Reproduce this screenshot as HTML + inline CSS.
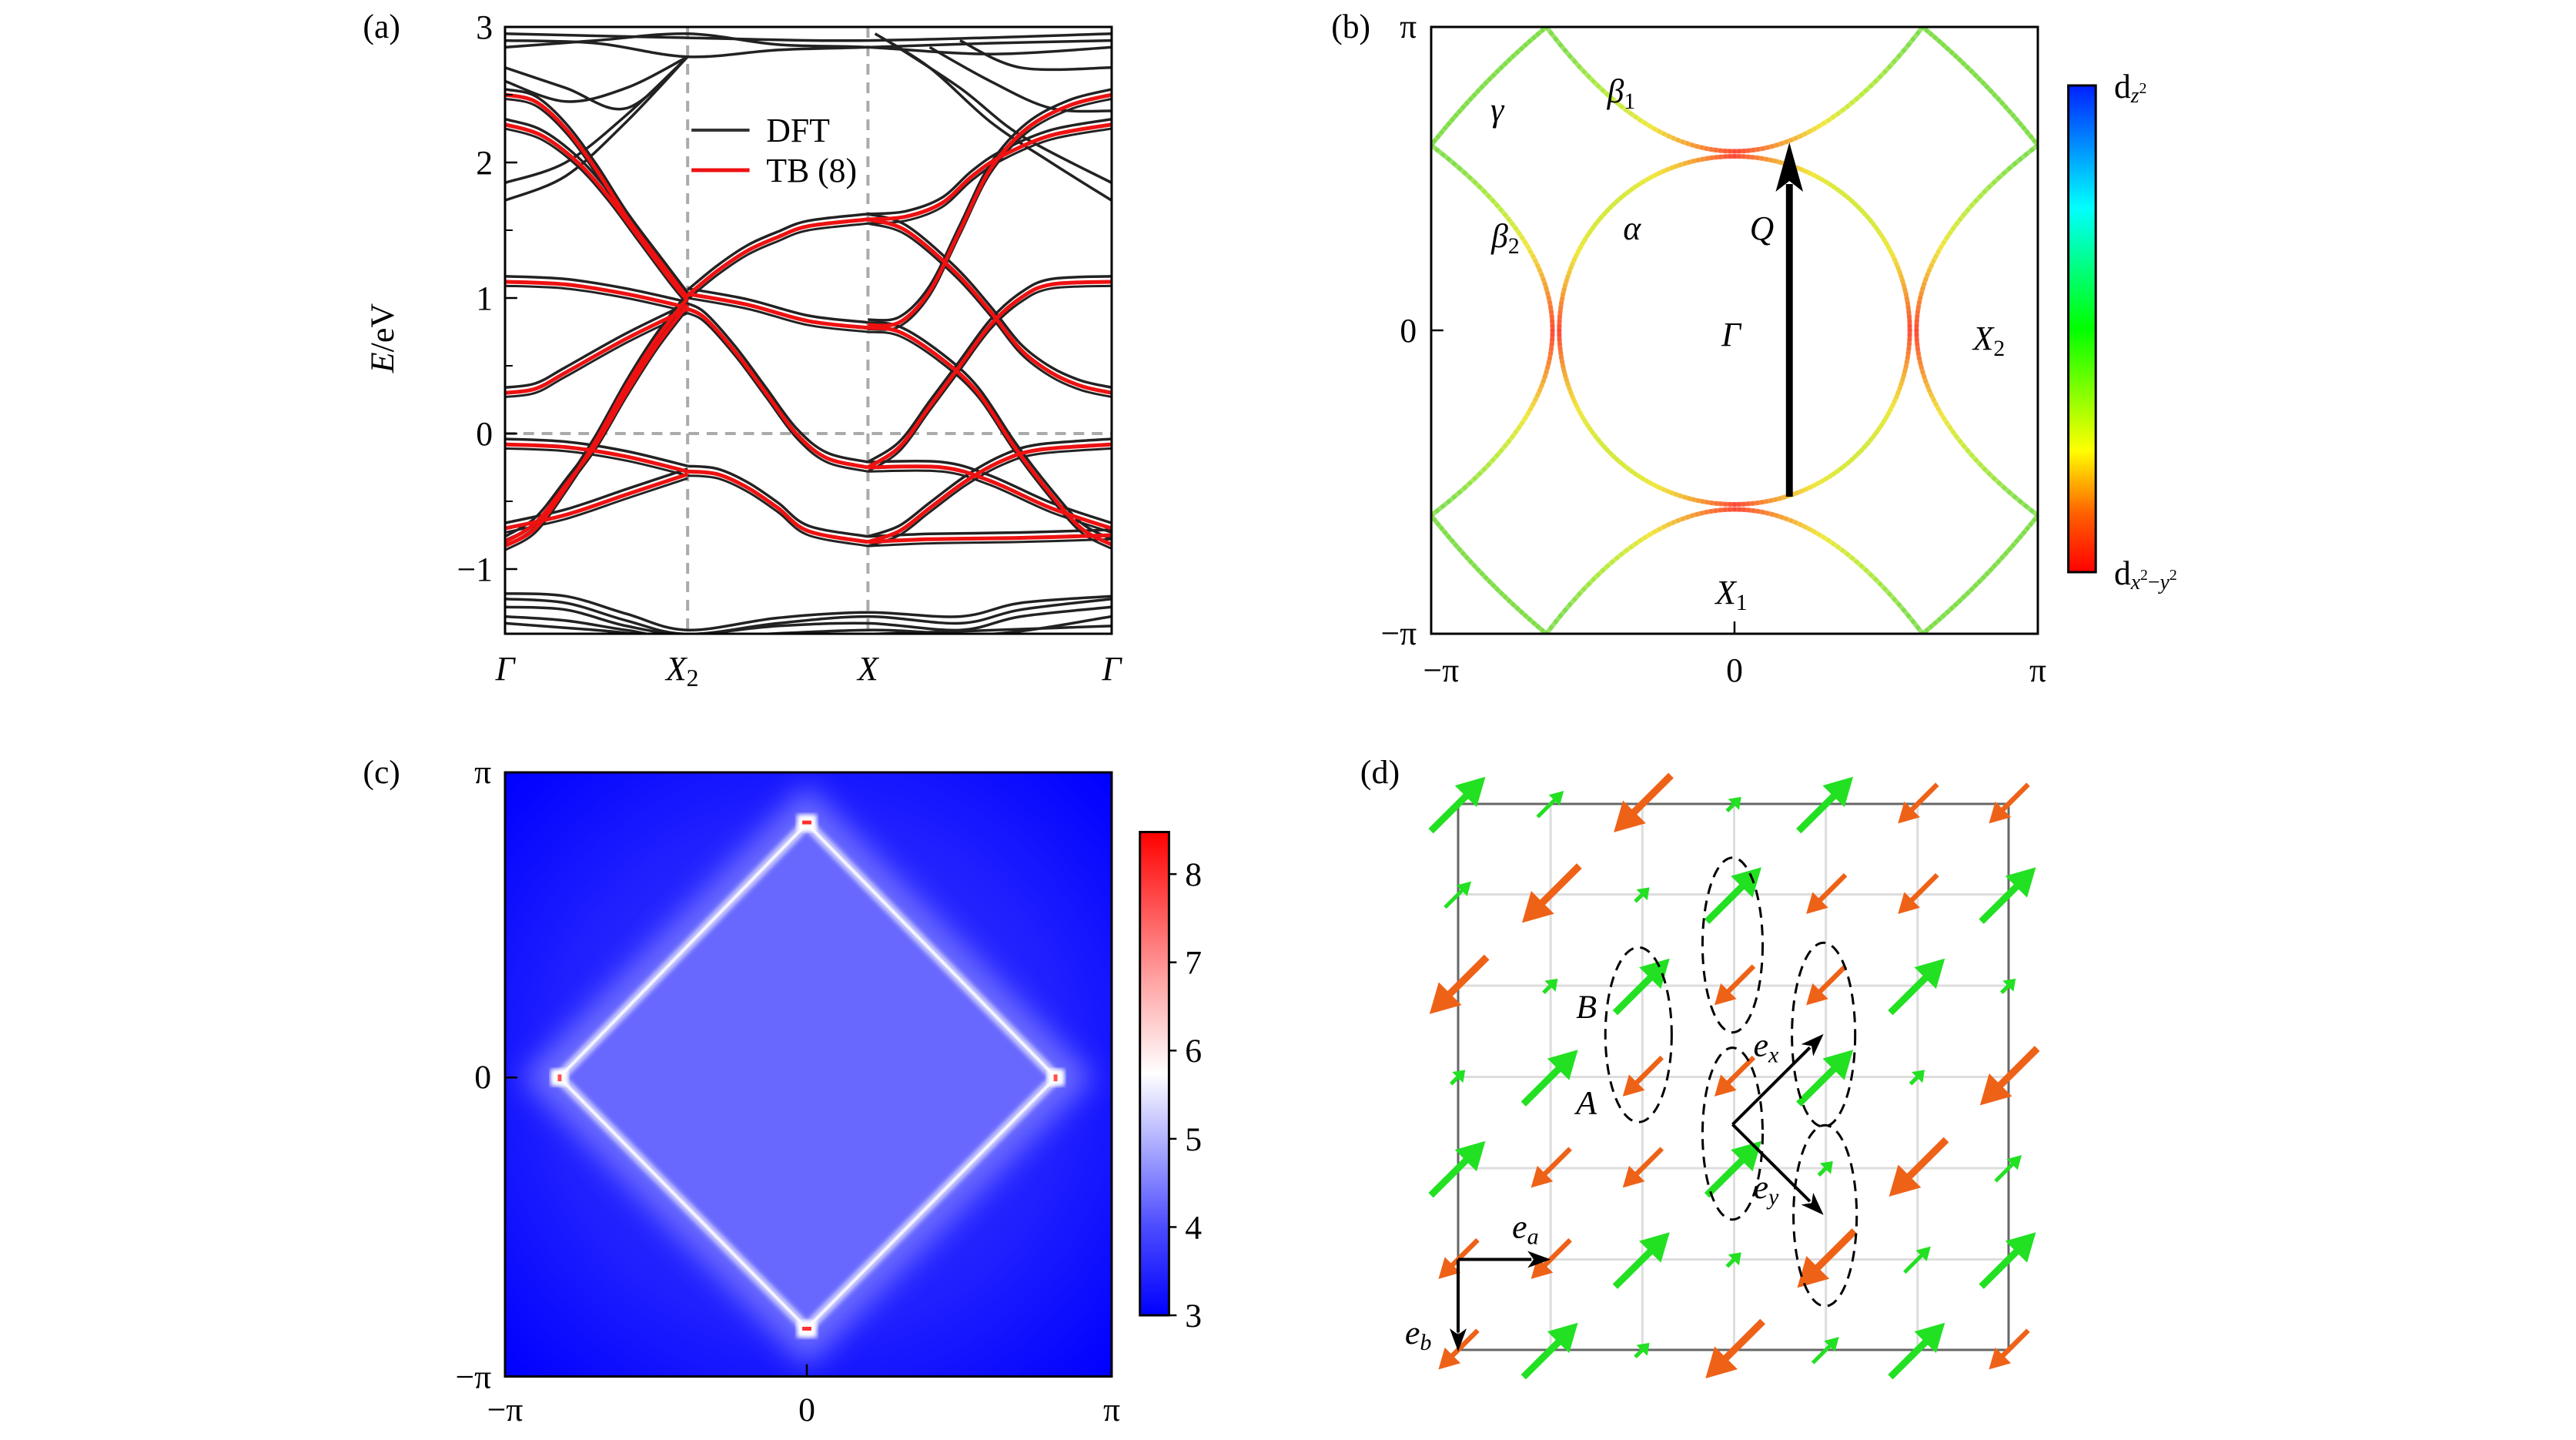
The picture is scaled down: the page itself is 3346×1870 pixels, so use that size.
<!DOCTYPE html>
<html><head><meta charset="utf-8"><style>
html,body{margin:0;padding:0;background:#fff;}
svg{display:block;}
text{font-family:"Liberation Serif",serif;fill:#000;}
.t{font-size:44px;}
.i{font-style:italic;}
</style></head><body>
<svg id="s" width="3346" height="1870" viewBox="0 0 3346 1870" xmlns="http://www.w3.org/2000/svg">
<defs>
<linearGradient id="jet" x1="0" y1="1" x2="0" y2="0">
<stop offset="0" stop-color="#ff0000"/><stop offset="0.12" stop-color="#ff6000"/><stop offset="0.25" stop-color="#ffff00"/><stop offset="0.5" stop-color="#00ff00"/><stop offset="0.75" stop-color="#00ffff"/><stop offset="1" stop-color="#0020ff"/>
</linearGradient>
<linearGradient id="bwr" x1="0" y1="1" x2="0" y2="0">
<stop offset="0" stop-color="#0000ff"/><stop offset="0.18" stop-color="#4a4aff"/><stop offset="0.36" stop-color="#b0b0ff"/><stop offset="0.5" stop-color="#ffffff"/><stop offset="0.7" stop-color="#ffa0a0"/><stop offset="1" stop-color="#ff0000"/>
</linearGradient>
<radialGradient id="bg" cx="0.5" cy="0.5" r="0.7">
<stop offset="0" stop-color="#3c3cff"/><stop offset="0.6" stop-color="#2020ff"/><stop offset="1" stop-color="#0000ff"/>
</radialGradient>
<filter id="blur1" x="-20%" y="-20%" width="140%" height="140%"><feGaussianBlur stdDeviation="18"/></filter>
<filter id="blur2"><feGaussianBlur stdDeviation="3"/></filter>
<clipPath id="ca"><rect x="658" y="36" width="794" height="788"/></clipPath>
<clipPath id="cb"><rect x="1864" y="36" width="796" height="788"/></clipPath>
<clipPath id="cc"><rect x="658" y="1010" width="794" height="790"/></clipPath>
</defs>
<g id="ga" transform="matrix(0.9924,0,0,1,3.0,-1)"><g id="pa" clip-path="url(#ca)"></g></g>
<g id="gb" transform="matrix(0.98995,0,0,1,13.7,-1)"><g id="pb" clip-path="url(#cb)"></g></g>
<g id="gc" transform="matrix(0.9924,0,0,0.993,3,0.1)">
<g id="pc" clip-path="url(#cc)">
<rect x="658" y="1010" width="794" height="790" fill="url(#bg)"/>
<polygon points="1053,1077 1379,1409 1053,1737 729,1409" fill="none" stroke="#6a6aff" stroke-width="70" filter="url(#blur1)"/>
<polygon points="1053,1077 1379,1409 1053,1737 729,1409" fill="#6868ff"/>
<polygon points="1053,1077 1379,1409 1053,1737 729,1409" fill="none" stroke="#c8c8ff" stroke-width="14" filter="url(#blur2)"/>
<polygon points="1053,1077 1379,1409 1053,1737 729,1409" fill="none" stroke="#f4f4ff" stroke-width="4"/>
<rect x="1040" y="1065" width="26" height="22" fill="#fff" filter="url(#blur2)"/>
<rect x="1040" y="1727" width="26" height="22" fill="#fff" filter="url(#blur2)"/>
<rect x="718" y="1398" width="22" height="22" fill="#fff" filter="url(#blur2)"/>
<rect x="1368" y="1398" width="22" height="22" fill="#fff" filter="url(#blur2)"/>
<rect x="1047" y="1073" width="12" height="5" fill="#ff3030"/>
<rect x="1047" y="1735" width="12" height="5" fill="#ff3030"/>
<rect x="727" y="1405" width="5" height="9" fill="#ff5050"/>
<rect x="1376" y="1405" width="5" height="9" fill="#ff5050"/>
</g>
</g>
<g id="gd" transform="matrix(1.0014,0,0,0.9958,-15.7,-2.6)"><g id="pd"></g></g>
</svg>
<script>
var NS="http://www.w3.org/2000/svg";
function el(p,tag,attrs,txt){var e=document.createElementNS(NS,tag);for(var k in attrs)e.setAttribute(k,attrs[k]);if(txt!==undefined)e.textContent=txt;p.appendChild(e);return e;}
function G(id){return document.getElementById(id);}
function cr(pts){
 var d="M"+pts[0][0].toFixed(1)+","+pts[0][1].toFixed(1);
 for(var i=0;i<pts.length-1;i++){var p0=pts[i-1]||pts[i],p1=pts[i],p2=pts[i+1],p3=pts[i+2]||pts[i+1];
  var c1=[p1[0]+(p2[0]-p0[0])/6,p1[1]+(p2[1]-p0[1])/6],c2=[p2[0]-(p3[0]-p1[0])/6,p2[1]-(p3[1]-p1[1])/6];
  d+="C"+c1[0].toFixed(1)+","+c1[1].toFixed(1)+" "+c2[0].toFixed(1)+","+c2[1].toFixed(1)+" "+p2[0].toFixed(1)+","+p2[1].toFixed(1);}
 return d;}
var axA=G("ga"),axB=G("gb"),axC=G("gc"),axD=G("gd");
// ---------- panel a
var pa=G("pa");
function kx(k){return 658+794*k;} function ey(E){return 564-176*E;}
function band(pts,col,w,dE){var q=pts.map(function(p){return [kx(p[0]),ey(p[1]+(dE||0))];});el(pa,"path",{d:cr(q),fill:"none",stroke:col,"stroke-width":w});}
el(pa,"line",{x1:897,y1:36,x2:897,y2:824,stroke:"#aaa","stroke-width":4,"stroke-dasharray":"14,10"});
el(pa,"line",{x1:1133,y1:36,x2:1133,y2:824,stroke:"#aaa","stroke-width":4,"stroke-dasharray":"14,10"});
el(pa,"line",{x1:658,y1:564,x2:1452,y2:564,stroke:"#aaa","stroke-width":4,"stroke-dasharray":"14,10"});
var B=[
[[0,2.5],[0.05,2.45],[0.1,2.25],[0.15,1.95],[0.2,1.6],[0.25,1.3],[0.301,1.0]],
[[0,2.28],[0.06,2.2],[0.12,2.0],[0.17,1.75],[0.22,1.45],[0.27,1.15],[0.301,0.98]],
[[0,1.12],[0.1,1.1],[0.2,1.03],[0.301,0.93]],
[[0,0.3],[0.05,0.33],[0.1,0.45],[0.2,0.7],[0.301,0.92]],
[[0,-0.83],[0.05,-0.7],[0.1,-0.4],[0.15,-0.05],[0.2,0.35],[0.25,0.7],[0.301,1.0]],
[[0,-0.8],[0.05,-0.66],[0.1,-0.38],[0.15,-0.08],[0.2,0.3],[0.25,0.65],[0.301,0.95]],
[[0,-0.08],[0.1,-0.1],[0.2,-0.17],[0.301,-0.28]],
[[0,-0.7],[0.1,-0.6],[0.2,-0.45],[0.301,-0.3]],
[[0.301,1.02],[0.35,1.2],[0.4,1.35],[0.45,1.45],[0.5,1.53],[0.598,1.58]],
[[0.301,1.03],[0.4,0.95],[0.5,0.83],[0.598,0.78]],
[[0.301,0.92],[0.33,0.85],[0.38,0.6],[0.43,0.3],[0.48,0.0],[0.53,-0.18],[0.598,-0.25]],
[[0.301,-0.28],[0.35,-0.3],[0.4,-0.4],[0.45,-0.55],[0.5,-0.72],[0.598,-0.8]],
[[0.598,1.58],[0.66,1.6],[0.72,1.7],[0.77,1.9],[0.82,2.05],[0.9,2.2],[1,2.28]],
[[0.598,0.8],[0.65,0.82],[0.7,1.05],[0.75,1.5],[0.8,1.95],[0.86,2.25],[0.93,2.42],[1,2.5]],
[[0.598,1.58],[0.66,1.5],[0.74,1.2],[0.8,0.9],[0.85,0.62],[0.9,0.45],[0.95,0.35],[1,0.3]],
[[0.598,0.78],[0.65,0.75],[0.72,0.55],[0.78,0.3],[0.84,-0.1],[0.9,-0.45],[0.95,-0.7],[1,-0.82]],
[[0.598,-0.25],[0.65,-0.1],[0.7,0.2],[0.75,0.5],[0.8,0.8],[0.85,1.0],[0.9,1.1],[1,1.12]],
[[0.598,-0.25],[0.72,-0.25],[0.8,-0.35],[0.9,-0.55],[1,-0.7]],
[[0.598,-0.8],[0.65,-0.72],[0.7,-0.55],[0.76,-0.35],[0.82,-0.2],[0.88,-0.12],[1,-0.08]],
[[0.598,-0.8],[0.7,-0.78],[0.85,-0.77],[1,-0.75]]
];
var X=[
[[0,2.7],[0.1,2.55],[0.2,2.4],[0.301,2.78]],[[0,2.6],[0.1,2.45],[0.2,2.55],[0.301,2.78]],
[[0,1.85],[0.1,2.0],[0.2,2.35],[0.301,2.78]],[[0,1.72],[0.1,1.9],[0.2,2.3],[0.301,2.78]],
[[0,2.95],[0.3,2.92],[0.6,2.9],[1,2.95]],[[0,2.9],[0.15,2.88],[0.301,2.78],[0.45,2.83],[0.598,2.85],[0.8,2.88],[1,2.9]],
[[0,2.85],[0.15,2.9],[0.301,2.95],[0.45,2.87],[0.598,2.85],[0.8,2.8],[1,2.85]],
[[0.61,2.95],[0.7,2.7],[0.8,2.3],[0.9,2.0],[1,1.72]],[[0.63,2.9],[0.75,2.55],[0.85,2.2],[1,1.85]],
[[0.7,2.85],[0.8,2.6],[0.9,2.4],[1,2.38]],[[0.75,2.9],[0.85,2.7],[1,2.7]],
[[0,-1.22],[0.1,-1.25],[0.2,-1.38],[0.301,-1.48],[0.45,-1.4],[0.598,-1.35],[0.75,-1.4],[0.85,-1.3],[1,-1.22]],
[[0,-1.28],[0.1,-1.3],[0.2,-1.42],[0.301,-1.48],[0.45,-1.42],[0.598,-1.4],[0.75,-1.45],[0.85,-1.35],[1,-1.28]],
[[0,-1.35],[0.1,-1.38],[0.2,-1.45],[0.301,-1.5],[0.598,-1.45],[0.8,-1.48],[1,-1.35]],
[[0,-1.4],[0.15,-1.45],[0.301,-1.5],[0.598,-1.48],[1,-1.42]],
[[0,-1.18],[0.1,-1.2],[0.2,-1.33],[0.301,-1.45],[0.45,-1.36],[0.598,-1.32],[0.75,-1.35],[0.85,-1.25],[1,-1.2]]
];
X.forEach(function(b){band(b,"#222",3.5,0);});
B.forEach(function(b){band(b,"#222",3.5,0.04);band(b,"#222",3,-0.03);});
B.forEach(function(b){band(b,"#ee1111",5,0);});
var ax=axA;
el(ax,"rect",{x:658,y:36,width:794,height:788,fill:"none",stroke:"#000","stroke-width":3});
[3,2,1,0,-1].forEach(function(v){var y=ey(v);el(ax,"line",{x1:658,y1:y,x2:674,y2:y,stroke:"#000","stroke-width":2.5});
 el(ax,"text",{x:642,y:y+15,"text-anchor":"end","class":"t"},v<0?"\u2212"+(-v):""+v);});
[2.5,1.5,0.5,-0.5].forEach(function(v){var y=ey(v);el(ax,"line",{x1:658,y1:y,x2:668,y2:y,stroke:"#000","stroke-width":2});});
el(ax,"text",{x:472,y:50,"class":"t"},"(a)");
var tE=el(ax,"text",{x:0,y:0,"class":"t",transform:"translate(512,440) rotate(-90)","text-anchor":"middle"});
el(tE,"tspan",{"font-style":"italic"},"E");el(tE,"tspan",{},"/eV");
el(ax,"text",{x:658,y:884,"class":"t i","text-anchor":"middle"},"\u0393");
var tx2=el(ax,"text",{x:890,y:884,"class":"t i","text-anchor":"middle"},"X");el(tx2,"tspan",{"font-style":"normal","font-size":"32",dy:8},"2");
el(ax,"text",{x:1133,y:884,"class":"t i","text-anchor":"middle"},"X");
el(ax,"text",{x:1452,y:884,"class":"t i","text-anchor":"middle"},"\u0393");
el(ax,"line",{x1:902,y1:170,x2:978,y2:170,stroke:"#333","stroke-width":4});
el(ax,"line",{x1:902,y1:222,x2:978,y2:222,stroke:"#ee1111","stroke-width":5});
el(ax,"text",{x:1000,y:185,"class":"t"},"DFT");
el(ax,"text",{x:1000,y:237,"class":"t"},"TB (8)");
// ---------- panel b
var pb=G("pb");var cx=2262,cy=430,hx=398,hy=394;
function P(u,v){return [cx+u*hx,cy-v*hy];}
function col(t){
 var stops=[[0,[255,60,40]],[0.25,[245,150,40]],[0.5,[240,230,50]],[0.75,[180,235,50]],[1,[120,220,60]]];
 for(var i=0;i<stops.length-1;i++){if(t<=stops[i+1][0]){var a=stops[i],b=stops[i+1],f=(t-a[0])/(b[0]-a[0]);
  return "rgb("+[0,1,2].map(function(j){return Math.round(a[1][j]+(b[1][j]-a[1][j])*f);}).join(",")+")";}}
 return "rgb(120,220,60)";}
function seg(pts,tf){for(var i=0;i<pts.length-1;i++){var t=tf(i/(pts.length-1));
 el(pb,"line",{x1:pts[i][0].toFixed(1),y1:pts[i][1].toFixed(1),x2:pts[i+1][0].toFixed(1),y2:pts[i+1][1].toFixed(1),stroke:col(t),"stroke-width":6,"stroke-linecap":"round","opacity":0.75});}}
var ap=[];for(var i=0;i<=240;i++){var a=i/240*2*Math.PI;ap.push([cx+230*Math.cos(a),cy-226*Math.sin(a)]);}
seg(ap,function(s){var a=s*2*Math.PI;return 0.62*Math.abs(Math.sin(2*a));});
function qb(p0,c,p2,n){var r=[];for(var i=0;i<=n;i++){var t=i/n;r.push([(1-t)*(1-t)*p0[0]+2*t*(1-t)*c[0]+t*t*p2[0],(1-t)*(1-t)*p0[1]+2*t*(1-t)*c[1]+t*t*p2[1]]);}return r;}
var bt=function(s){return Math.min(1,Math.abs(s-0.5)*2.2);};
seg(qb(P(-0.62,1),P(0,0.18),P(0.62,1),80),bt);
seg(qb(P(-0.62,-1),P(0,-0.18),P(0.62,-1),80),bt);
seg(qb(P(-1,0.61),P(-0.2,0),P(-1,-0.61),80),bt);
seg(qb(P(1,0.61),P(0.2,0),P(1,-0.61),80),bt);
[[-1,1],[1,1],[-1,-1],[1,-1]].forEach(function(c){var a=P(0.62*c[0],c[1]),b=P(c[0],0.61*c[1]);
 var m=[(a[0]+b[0])/2+c[0]*8,(a[1]+b[1])/2-c[1]*8];seg(qb(a,m,b,30),function(){return 1;});});
el(pb,"line",{x1:2334,y1:646,x2:2334,y2:240,stroke:"#000","stroke-width":9});
el(pb,"polygon",{points:"2334,186 2316,250 2334,236 2352,250",fill:"#000"});
ax=axB;
el(ax,"rect",{x:1864,y:36,width:796,height:788,fill:"none",stroke:"#000","stroke-width":3});
el(ax,"line",{x1:1864,y1:430,x2:1880,y2:430,stroke:"#000","stroke-width":2.5});
el(ax,"line",{x1:2262,y1:824,x2:2262,y2:808,stroke:"#000","stroke-width":2.5});
el(ax,"text",{x:1733,y:50,"class":"t"},"(b)");
el(ax,"text",{x:1845,y:50,"class":"t","text-anchor":"end"},"\u03c0");
el(ax,"text",{x:1845,y:445,"class":"t","text-anchor":"end"},"0");
el(ax,"text",{x:1845,y:838,"class":"t","text-anchor":"end"},"\u2212\u03c0");
el(ax,"text",{x:1877,y:886,"class":"t","text-anchor":"middle"},"\u2212\u03c0");
el(ax,"text",{x:2262,y:886,"class":"t","text-anchor":"middle"},"0");
el(ax,"text",{x:2660,y:886,"class":"t","text-anchor":"middle"},"\u03c0");
el(ax,"text",{x:1942,y:158,"class":"t i"},"\u03b3");
var b1=el(ax,"text",{x:2095,y:134,"class":"t i"},"\u03b2");el(b1,"tspan",{"font-style":"normal","font-size":"30",dy:8},"1");
var b2=el(ax,"text",{x:1943,y:322,"class":"t i"},"\u03b2");el(b2,"tspan",{"font-style":"normal","font-size":"30",dy:8},"2");
el(ax,"text",{x:2116,y:312,"class":"t i"},"\u03b1");
el(ax,"text",{x:2282,y:312,"class":"t i"},"Q");
el(ax,"text",{x:2245,y:450,"class":"t i"},"\u0393");
var x2b=el(ax,"text",{x:2575,y:455,"class":"t i"},"X");el(x2b,"tspan",{"font-style":"normal","font-size":"30",dy:8},"2");
var x1b=el(ax,"text",{x:2237,y:785,"class":"t i"},"X");el(x1b,"tspan",{"font-style":"normal","font-size":"30",dy:8},"1");
el(ax,"rect",{x:2700,y:112,width:36,height:632,fill:"url(#jet)",stroke:"#000","stroke-width":3});
var dz=el(ax,"text",{x:2760,y:128,"class":"t"},"d");el(dz,"tspan",{"font-style":"italic","font-size":"28",dy:6},"z");el(dz,"tspan",{"font-size":"20",dy:-12},"2");
var dx=el(ax,"text",{x:2760,y:760,"class":"t"},"d");el(dx,"tspan",{"font-style":"italic","font-size":"28",dy:6},"x");el(dx,"tspan",{"font-size":"20",dy:-12},"2");
el(dx,"tspan",{"font-size":"28",dy:12},"\u2212");el(dx,"tspan",{"font-style":"italic","font-size":"28"},"y");el(dx,"tspan",{"font-size":"20",dy:-12},"2");
// ---------- panel c axes
ax=axC;
el(ax,"rect",{x:658,y:1010,width:794,height:790,fill:"none",stroke:"#000","stroke-width":3});
el(ax,"line",{x1:658,y1:1409,x2:674,y2:1409,stroke:"#000","stroke-width":2.5});
el(ax,"line",{x1:1053,y1:1800,x2:1053,y2:1784,stroke:"#000","stroke-width":2.5});
el(ax,"text",{x:472,y:1024,"class":"t"},"(c)");
el(ax,"text",{x:640,y:1024,"class":"t","text-anchor":"end"},"\u03c0");
el(ax,"text",{x:640,y:1423,"class":"t","text-anchor":"end"},"0");
el(ax,"text",{x:640,y:1815,"class":"t","text-anchor":"end"},"\u2212\u03c0");
el(ax,"text",{x:658,y:1858,"class":"t","text-anchor":"middle"},"\u2212\u03c0");
el(ax,"text",{x:1053,y:1858,"class":"t","text-anchor":"middle"},"0");
el(ax,"text",{x:1452,y:1858,"class":"t","text-anchor":"middle"},"\u03c0");
el(ax,"rect",{x:1489,y:1088,width:38,height:632,fill:"url(#bwr)",stroke:"#000","stroke-width":3});
[3,4,5,6,7,8].forEach(function(v){var y=1720-(v-3)*115.4;el(ax,"line",{x1:1527,y1:y,x2:1537,y2:y,stroke:"#000","stroke-width":2.5});
 el(ax,"text",{x:1548,y:y+15,"class":"t"},""+v);});
// ---------- panel d
var pd=G("pd");var gx=[1907,2027,2146,2265,2384,2503,2621],gy=[1051,1169,1288,1407,1526,1645,1763];
for(var i=1;i<6;i++){el(pd,"line",{x1:gx[i],y1:1051,x2:gx[i],y2:1763,stroke:"#ddd","stroke-width":3});el(pd,"line",{x1:1907,y1:gy[i],x2:2621,y2:gy[i],stroke:"#ddd","stroke-width":3});}
el(pd,"rect",{x:1907,y:1051,width:714,height:712,fill:"none",stroke:"#666","stroke-width":3});
var M=["GgOtGoo","gOtGooG","OtGooGt","tGooGtO","GooGtOg","ooGtOgG","oGtOgGo"];
function arrow(x,y,L,green){var d=green?1:-1;var ux=d/Math.SQRT2,uy=-d/Math.SQRT2;var nx=-uy,ny=ux;
 var hl=Math.max(14,L*0.36),hw=Math.max(10,L*0.2),sw=Math.max(5,L*0.09);
 var tx=x-ux*L/2,ty=y-uy*L/2,hx2=x+ux*L/2,hy2=y+uy*L/2,bx=hx2-ux*hl,by=hy2-uy*hl;
 var c=green?"#22e022":"#ee6218";
 el(pd,"polygon",{points:[tx+nx*sw/2,ty+ny*sw/2,bx+nx*sw/2,by+ny*sw/2,bx+nx*hw,by+ny*hw,hx2,hy2,bx-nx*hw,by-ny*hw,bx-nx*sw/2,by-ny*sw/2,tx-nx*sw/2,ty-ny*sw/2].map(function(v){return v.toFixed(1);}).join(" "),fill:c});}
for(var r=0;r<7;r++)for(var c=0;c<7;c++){var ch=M[r][c];var L={G:100,O:105,o:72,g:48,t:26}[ch];arrow(gx[c],gy[r],L,ch=="G"||ch=="g"||ch=="t");}
[[2141,1352,43,114],[2263,1235,39,114],[2263,1481,39,112],[2381,1352,41,120],[2383,1588,41,118]].forEach(function(e){
 el(pd,"ellipse",{cx:e[0],cy:e[1],rx:e[2],ry:e[3],fill:"none",stroke:"#000","stroke-width":3,"stroke-dasharray":"14,9"});});
function blk(x1,y1,x2,y2){var dx=x2-x1,dy=y2-y1,l=Math.hypot(dx,dy),ux=dx/l,uy=dy/l,bx=x2-ux*30,by=y2-uy*30;
 el(pd,"line",{x1:x1,y1:y1,x2:bx+ux*5,y2:by+uy*5,stroke:"#000","stroke-width":4});
 el(pd,"polygon",{points:[x2,y2,bx-uy*11,by+ux*11,bx+ux*8,by+uy*8,bx+uy*11,by-ux*11].join(" "),fill:"#000"});}
blk(2263,1469,2381,1351);blk(2263,1469,2381,1587);blk(1907,1645,2027,1645);blk(1907,1645,1907,1765);
ax=axD;
el(ax,"text",{x:1780,y:1024,"class":"t"},"(d)");
el(ax,"text",{x:2060,y:1330,"class":"t i"},"B");
el(ax,"text",{x:2060,y:1455,"class":"t i"},"A");
var exx=el(ax,"text",{x:2290,y:1380,"class":"t i"},"e");el(exx,"tspan",{"font-size":"30",dy:8},"x");
var eyy=el(ax,"text",{x:2290,y:1565,"class":"t i"},"e");el(eyy,"tspan",{"font-size":"30",dy:8},"y");
var eaa=el(ax,"text",{x:1977,y:1617,"class":"t i"},"e");el(eaa,"tspan",{"font-size":"30",dy:8},"a");
var ebb=el(ax,"text",{x:1838,y:1755,"class":"t i"},"e");el(ebb,"tspan",{"font-size":"30",dy:8},"b");
</script>
</body></html>
